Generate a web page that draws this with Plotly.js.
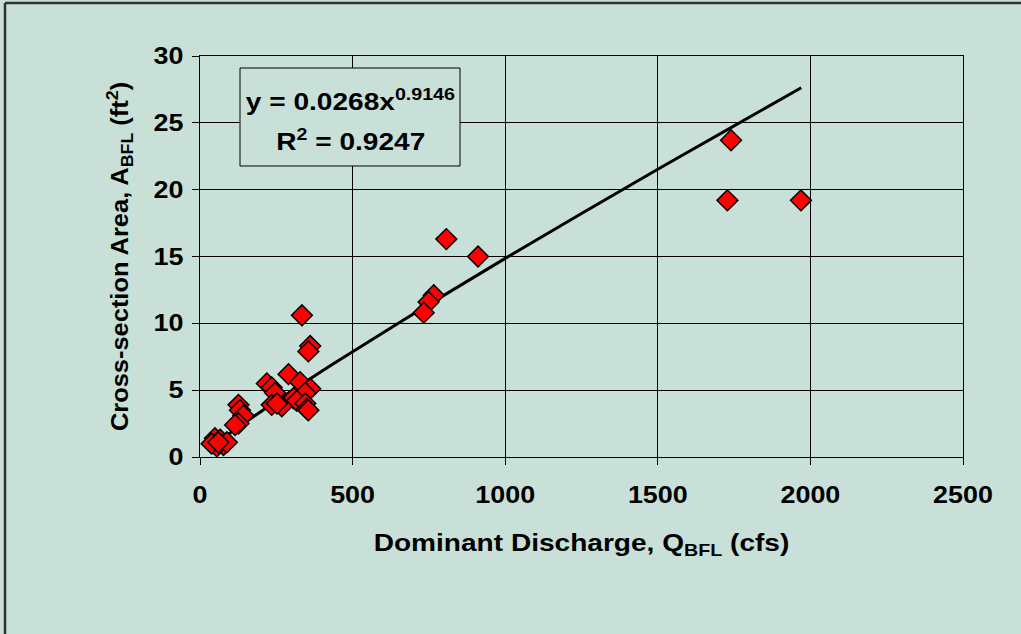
<!DOCTYPE html>
<html>
<head>
<meta charset="utf-8">
<script src="https://cdn.plot.ly/plotly-3.0.1.min.js"></script>
<style>
  html, body { margin: 0; padding: 0; background: #C8E0D8; }
  #chart { width: 1021px; height: 634px; }
</style>
</head>
<body>
<div id="chart"></div>
<script>
// Observed data: dominant discharge (cfs) vs cross-section area (ft^2)
var dischargeQ = [1740, 1728, 1969, 807, 911, 766, 749, 733, 334, 361, 355, 290, 328, 361, 345,
                  219, 235, 246, 306, 317, 268, 235, 252, 345, 350, 355,
                  126, 131, 142, 126, 115, 49, 66, 77, 55, 38, 88, 60];
var areaA      = [23.7, 19.2, 19.2, 16.3, 15.0, 12.1, 11.6, 10.8, 10.6, 8.3, 7.9, 6.2, 5.6, 5.1, 4.8,
                  5.5, 5.2, 4.8, 4.4, 4.2, 3.8, 3.9, 4.0, 4.0, 3.6, 3.5,
                  3.9, 3.5, 3.1, 2.5, 2.4, 1.4, 1.3, 0.9, 0.8, 1.0, 1.1, 1.1];

// Power trendline as drawn (y = 0.0268x^0.9146), read at these discharges
var trendQ = [45, 100, 200, 300, 400, 500, 750, 1000, 1250, 1500, 1750, 1970];
var trendA = [0.87, 1.81, 3.41, 4.94, 6.43, 7.88, 11.42, 14.86, 18.22, 21.53, 24.77, 27.63];

var xTickVals = [0, 500, 1000, 1500, 2000, 2500];
var yTickVals = [0, 5, 10, 15, 20, 25, 30];

var eqLine1 = "y = 0.0268x<sup>0.9146</sup>";
var eqLine2 = "R<sup>2</sup> = 0.9247";
var xTitle = "Dominant Discharge, Q<sub>BFL</sub> (cfs)";
var yTitle = "Cross-section Area, A<sub>BFL</sub> (ft<sup>2</sup>)";

var bg = "#C8E0D8";
var fontFam = "Liberation Sans, Arial, sans-serif";

var traces = [
  {
    x: trendQ, y: trendA, type: "scatter", mode: "lines",
    line: { color: "#000000", width: 3, shape: "spline" },
    hoverinfo: "skip", showlegend: false
  },
  {
    x: dischargeQ, y: areaA, type: "scatter", mode: "markers",
    marker: { symbol: "diamond", size: 16, color: "#FF0000",
              line: { color: "#000000", width: 1.5 } },
    showlegend: false
  }
];

var W = 763, H = 401, L = 200, T = 56;
function px(xp) { return (xp - L) / W; }
function py(yp) { return (T + H - yp) / H; }

var layout = {
  width: 1021, height: 634,
  margin: { l: 200, r: 58, t: 56, b: 177, pad: 0 },
  paper_bgcolor: bg, plot_bgcolor: bg,
  font: { family: fontFam, color: "#000000", size: 16 },
  showlegend: false,
  xaxis: {
    range: [0, 2500], tickvals: xTickVals, ticktext: xTickVals.map(String),
    showgrid: true, gridcolor: "#000000", gridwidth: 1,
    showline: true, linecolor: "#000000", linewidth: 1, mirror: true,
    ticks: "outside", ticklen: 7, tickcolor: "#000000",
    zeroline: false,
    tickfont: { family: fontFam, size: 23, color: "#000000", weight: "bold" },
    ticklabelstandoff: 10,
    title: { text: xTitle, standoff: 27,
             font: { family: fontFam, size: 24, color: "#000000", weight: "bold" } }
  },
  yaxis: {
    range: [0, 30], tickvals: yTickVals, ticktext: yTickVals.map(String),
    showgrid: true, gridcolor: "#000000", gridwidth: 1,
    showline: true, linecolor: "#000000", linewidth: 1, mirror: true,
    ticks: "outside", ticklen: 7, tickcolor: "#000000",
    zeroline: false,
    tickfont: { family: fontFam, size: 23, color: "#000000", weight: "bold" },
    ticklabelstandoff: 4,
    title: { text: yTitle, standoff: 22,
             font: { family: fontFam, size: 24, color: "#000000", weight: "bold" } }
  },
  shapes: [
    // equation box
    { type: "rect", xref: "paper", yref: "paper", layer: "above",
      x0: px(240), x1: px(460), y0: py(166), y1: py(68),
      fillcolor: bg, line: { color: "#000000", width: 1 } },
    // outer chart border (top & left)
    { type: "line", xref: "paper", yref: "paper",
      x0: px(5), x1: px(1021), y0: py(3), y1: py(3),
      line: { color: "#303030", width: 2.5 } },
    { type: "line", xref: "paper", yref: "paper",
      x0: px(5), x1: px(5), y0: py(3), y1: py(634),
      line: { color: "#303030", width: 2.5 } }
  ],
  annotations: [
    { xref: "paper", yref: "paper", x: px(350), y: py(100), showarrow: false,
      text: eqLine1, xanchor: "center", yanchor: "middle",
      font: { family: fontFam, size: 24, color: "#000000", weight: "bold" } },
    { xref: "paper", yref: "paper", x: px(350), y: py(140), showarrow: false,
      text: eqLine2, xanchor: "center", yanchor: "middle",
      font: { family: fontFam, size: 24, color: "#000000", weight: "bold" } }
  ]
};

// The reference lettering is horizontally widened; widen glyphs about their anchors.
function widenText(gd) {
  var texts = gd.querySelectorAll("svg text");
  texts.forEach(function (t) {
    if (!t.textContent) return;
    var x = parseFloat(t.getAttribute("x")) || 0;
    var y = parseFloat(t.getAttribute("y")) || 0;
    var tr = t.getAttribute("transform") || "";
    var s;
    if (tr.indexOf("rotate") >= 0) s = 1.06;
    else if (t.classList.contains("xtick") || t.classList.contains("ytick")) s = 1.12;
    else s = 1.17;
    t.setAttribute("transform", tr + " translate(" + x + "," + y + ") scale(" + s + ",1) translate(" + (-x) + "," + (-y) + ")");
  });
}

Plotly.newPlot("chart", traces, layout, { displayModeBar: false, staticPlot: true })
  .then(widenText);
</script>
</body>
</html>
